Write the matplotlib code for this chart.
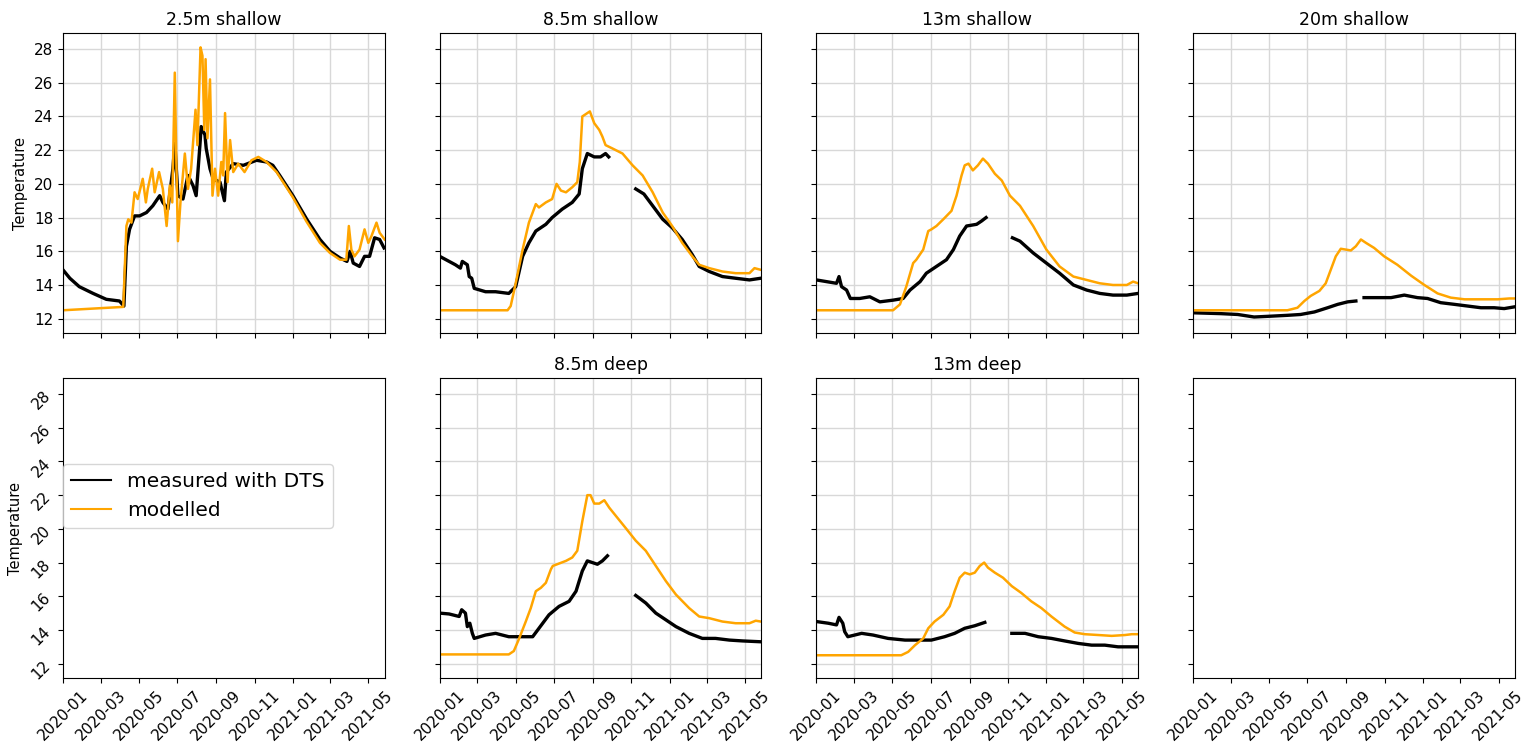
import numpy as np
import pandas as pd
import matplotlib
matplotlib.use("Agg")
import matplotlib.pyplot as plt
import matplotlib.dates as mdates
from matplotlib.lines import Line2D

start = pd.Timestamp("2020-01-01")
nan = np.nan

# values, x = days since 2020-01-01
# 2.5m shallow
s25_meas_day = [0, 11, 26, 48, 69, 90, 97, 101, 106, 114, 122, 133, 143, 154, 159, 167, 175, 178, 183, 191,
                199, 207, 212, 218, 220, 226, 228, 234, 239, 250, 257, 260, 271, 287, 308, 324, 334, 345, 366, 388,
                409, 425, 441, 452, 457, 462, 472, 480, 488, 496, 504, 511]
s25_meas = [14.9, 14.4, 13.9, 13.5, 13.15, 13.05, 12.75, 16.3, 17.3, 18.1, 18.1, 18.3, 18.7, 19.3, 18.9, 18.5, 20.9, 22.4, 19.3, 19.1,
            20.5, 19.9, 19.3, 22.3, 23.4, 22.9, 22.1, 20.9, 20.3, 20.1, 19.0, 20.7, 21.2, 21.1, 21.4, 21.3, 21.1, 20.5, 19.3, 17.9,
            16.7, 16.0, 15.6, 15.4, 16.0, 15.3, 15.1, 15.7, 15.7, 16.8, 16.7, 16.2]
s25_mod_day = [0, 48, 96, 101, 104, 109, 114, 119, 127, 132, 135, 142, 146, 153, 159, 165, 170, 174, 178, 180,
               183, 187, 194, 199, 204, 211, 214, 219, 222, 225, 227, 230, 234, 238, 242, 247, 252, 255, 258, 262,
               266, 271, 279, 289, 300, 311, 324, 340, 366, 387, 409, 425, 441, 451, 455, 459, 464, 472, 480, 486,
               491, 499, 504, 512]
s25_mod = [12.5, 12.6, 12.7, 17.5, 17.9, 17.7, 19.5, 19.1, 20.3, 18.9, 19.7, 20.9, 19.5, 20.7, 19.7, 17.5, 19.9, 18.9, 26.6, 22.3,
           16.6, 18.9, 21.8, 19.7, 20.9, 24.4, 22.3, 28.1, 27.6, 23.2, 27.4, 22.7, 26.2, 19.3, 20.9, 19.3, 21.3, 20.5, 24.2, 20.1,
           22.6, 20.7, 21.2, 20.7, 21.4, 21.6, 21.3, 20.7, 19.2, 17.8, 16.5, 15.9, 15.5, 15.5, 17.5, 16.1, 15.7, 16.1, 17.3, 16.5,
           16.9, 17.7, 17.1, 16.7]

# 8.5m shallow
s85_meas_day = [0, 10, 25, 33, 36, 44, 47, 51, 55, 73, 89, 110, 121, 132, 142, 153, 169, 179, 195, 211,
                222, 227, 235, 246, 256, 264, 269, 290, 312, 325, 339, 355, 370, 386, 402, 413, 429, 450, 471, 493, 511]
s85_meas = [15.7, 15.5, 15.2, 15.0, 15.4, 15.2, 14.5, 14.4, 13.8, 13.6, 13.6, 13.5, 13.9, 15.7, 16.5, 17.2, 17.6, 18.0, 18.5, 18.9,
            19.4, 20.9, 21.8, 21.6, 21.6, 21.8, 21.6, nan, 19.7, 19.4, 18.7, 17.9, 17.4, 16.7, 15.8, 15.1, 14.8, 14.5, 14.4, 14.3, 14.4]
s85_mod_day = [0, 108, 113, 121, 132, 142, 153, 158, 169, 179, 186, 193, 201, 211, 219, 223, 227, 235, 239, 246,
               254, 259, 264, 275, 291, 307, 323, 339, 355, 370, 386, 402, 413, 429, 450, 471, 493, 501, 511]
s85_mod = [12.5, 12.5, 12.75, 14.1, 16.1, 17.7, 18.8, 18.6, 18.9, 19.1, 20.0, 19.6, 19.5, 19.8, 20.1, 21.3, 24.0, 24.2, 24.3, 23.6,
           23.2, 22.8, 22.3, 22.1, 21.8, 21.1, 20.5, 19.5, 18.3, 17.5, 16.5, 15.7, 15.2, 15.0, 14.8, 14.7, 14.7, 15.0, 14.9]

# 13m shallow
s13_meas_day = [0, 16, 32, 36, 40, 48, 54, 69, 85, 101, 122, 138, 149, 165, 175, 191, 207, 218, 228, 239,
                255, 263, 270, 300, 312, 324, 345, 366, 387, 409, 430, 451, 472, 494, 512]
s13_meas = [14.3, 14.2, 14.1, 14.5, 13.9, 13.7, 13.2, 13.2, 13.3, 13.0, 13.1, 13.2, 13.7, 14.2, 14.7, 15.1, 15.5, 16.1, 16.9, 17.5,
            17.6, 17.8, 18.0, nan, 16.8, 16.6, 15.9, 15.3, 14.7, 14.0, 13.7, 13.5, 13.4, 13.4, 13.5]
s13_mod_day = [0, 122, 133, 143, 154, 159, 170, 178, 183, 191, 202, 215, 223, 231, 236, 242, 249, 257, 265, 273,
               284, 295, 308, 324, 345, 366, 387, 409, 430, 451, 472, 494, 504, 512]
s13_mod = [12.5, 12.5, 12.85, 13.9, 15.3, 15.5, 16.1, 17.2, 17.3, 17.5, 17.9, 18.4, 19.3, 20.5, 21.1, 21.2, 20.8, 21.1, 21.5, 21.2,
           20.6, 20.2, 19.3, 18.7, 17.5, 16.1, 15.1, 14.5, 14.3, 14.1, 14.0, 14.0, 14.2, 14.1]

# 20m shallow
s20_meas_day = [0, 44, 71, 97, 124, 150, 171, 193, 214, 230, 246, 259, 265, 272, 294, 315, 336, 357, 373, 394,
                416, 437, 458, 479, 495, 511]
s20_meas = [12.35, 12.3, 12.25, 12.1, 12.15, 12.2, 12.25, 12.4, 12.65, 12.85, 13.0, 13.05, nan, 13.25, 13.25, 13.25, 13.4, 13.25, 13.2, 12.95,
            12.85, 12.75, 12.65, 12.65, 12.6, 12.7]
s20_mod_day = [0, 150, 166, 177, 187, 201, 211, 219, 227, 235, 243, 251, 259, 267, 275, 288, 304, 325, 347, 368,
               389, 410, 432, 458, 485, 503, 511]
s20_mod = [12.5, 12.5, 12.65, 13.05, 13.35, 13.65, 14.1, 14.9, 15.7, 16.15, 16.1, 16.05, 16.3, 16.7, 16.5, 16.2, 15.7, 15.2, 14.55, 14.0,
           13.5, 13.25, 13.15, 13.15, 13.15, 13.2, 13.2]

# 8.5m deep
d85_meas_day = [0, 15, 31, 35, 41, 44, 48, 52, 55, 73, 89, 110, 132, 148, 158, 174, 190, 206, 217, 227,
                235, 243, 251, 259, 267, 290, 312, 328, 344, 360, 376, 397, 418, 439, 461, 482, 511]
d85_meas = [15.0, 14.95, 14.8, 15.2, 15.0, 14.2, 14.4, 13.8, 13.5, 13.7, 13.8, 13.6, 13.6, 13.6, 14.1, 14.9, 15.4, 15.7, 16.3, 17.5,
            18.1, 18.0, 17.9, 18.1, 18.4, nan, 16.05, 15.6, 15.0, 14.6, 14.2, 13.8, 13.5, 13.5, 13.4, 13.35, 13.3]
d85_mod_day = [0, 110, 118, 126, 137, 145, 153, 161, 169, 177, 180, 187, 201, 211, 219, 227, 235, 240, 246, 254,
               262, 270, 283, 296, 312, 328, 344, 360, 376, 397, 413, 429, 450, 471, 493, 503, 511]
d85_mod = [12.55, 12.55, 12.75, 13.45, 14.5, 15.3, 16.3, 16.5, 16.8, 17.6, 17.8, 17.9, 18.1, 18.3, 18.7, 20.45, 22.0, 22.0, 21.5, 21.5,
           21.7, 21.25, 20.65, 20.05, 19.3, 18.7, 17.8, 16.9, 16.1, 15.3, 14.8, 14.7, 14.5, 14.4, 14.4, 14.55, 14.5]

# 13m deep
d13_meas_day = [0, 19, 32, 36, 42, 45, 50, 72, 90, 114, 141, 167, 183, 204, 220, 236, 252, 268, 290, 311,
                332, 353, 374, 395, 417, 438, 459, 480, 510]
d13_meas = [14.5, 14.4, 14.3, 14.75, 14.4, 13.9, 13.6, 13.8, 13.7, 13.5, 13.4, 13.4, 13.4, 13.6, 13.8, 14.1, 14.25, 14.45, nan, 13.8,
            13.8, 13.6, 13.5, 13.35, 13.2, 13.1, 13.1, 13.0, 13.0]
d13_mod_day = [0, 135, 146, 157, 170, 178, 188, 202, 212, 220, 228, 236, 244, 252, 260, 267, 273, 284, 297, 311,
               326, 342, 358, 374, 395, 411, 427, 449, 470, 491, 502, 510]
d13_mod = [12.5, 12.5, 12.7, 13.1, 13.5, 14.1, 14.5, 14.9, 15.4, 16.3, 17.1, 17.4, 17.3, 17.4, 17.8, 18.0, 17.7, 17.4, 17.1, 16.6,
           16.2, 15.7, 15.3, 14.8, 14.2, 13.85, 13.75, 13.7, 13.65, 13.7, 13.75, 13.75]

titles = ["2.5m shallow", "8.5m shallow", "13m shallow", "20m shallow", None, "8.5m deep", "13m deep", None]
measured = [(s25_meas_day, s25_meas), (s85_meas_day, s85_meas), (s13_meas_day, s13_meas), (s20_meas_day, s20_meas),
            None, (d85_meas_day, d85_meas), (d13_meas_day, d13_meas), None]
modelled = [(s25_mod_day, s25_mod), (s85_mod_day, s85_mod), (s13_mod_day, s13_mod), (s20_mod_day, s20_mod),
            None, (d85_mod_day, d85_mod), (d13_mod_day, d13_mod), None]


def to_dates(days):
    return start + pd.to_timedelta(days, unit="D")


fig, axes = plt.subplots(2, 4, sharex=True, sharey=True, figsize=(15.24, 7.44), dpi=100)
fig.subplots_adjust(left=0.0413, right=0.994, top=0.9556, bottom=0.0887, wspace=0.171, hspace=0.15)

for i, ax in enumerate(axes.flat):
    if measured[i] is not None:
        ax.plot(to_dates(measured[i][0]), measured[i][1], color="black", lw=2.4)
        ax.plot(to_dates(modelled[i][0]), modelled[i][1], color="orange", lw=1.8)
        ax.grid(True, color="#d8d8d8", lw=1)
        ax.set_axisbelow(True)
        ax.set_title(titles[i], fontsize=12.5)
    ax.tick_params(labelsize=11)

axes[0, 0].set_ylim(11.15, 28.95)
axes[0, 0].set_yticks(range(12, 29, 2))
axes[0, 0].set_xlim(pd.Timestamp("2020-01-01"), pd.Timestamp("2021-05-27"))
axes[0, 0].xaxis.set_major_locator(mdates.MonthLocator(bymonth=[1, 3, 5, 7, 9, 11]))
axes[0, 0].xaxis.set_major_formatter(mdates.DateFormatter("%Y-%m"))

for ax in axes[1]:
    ax.tick_params(axis="x", labelrotation=45)
axes[1, 0].tick_params(axis="y", labelrotation=45)

axes[0, 0].set_ylabel("Temperature", fontsize=10.5)
axes[1, 0].set_ylabel("Temperature", fontsize=10.5)

handles = [Line2D([], [], color="black", lw=1.5), Line2D([], [], color="orange", lw=1.5)]
axes[1, 0].legend(handles, ["measured with DTS", "modelled"], loc="center left",
                  bbox_to_anchor=(0, 0.607), borderaxespad=0, fontsize=14.5)

plt.savefig("out.png")
